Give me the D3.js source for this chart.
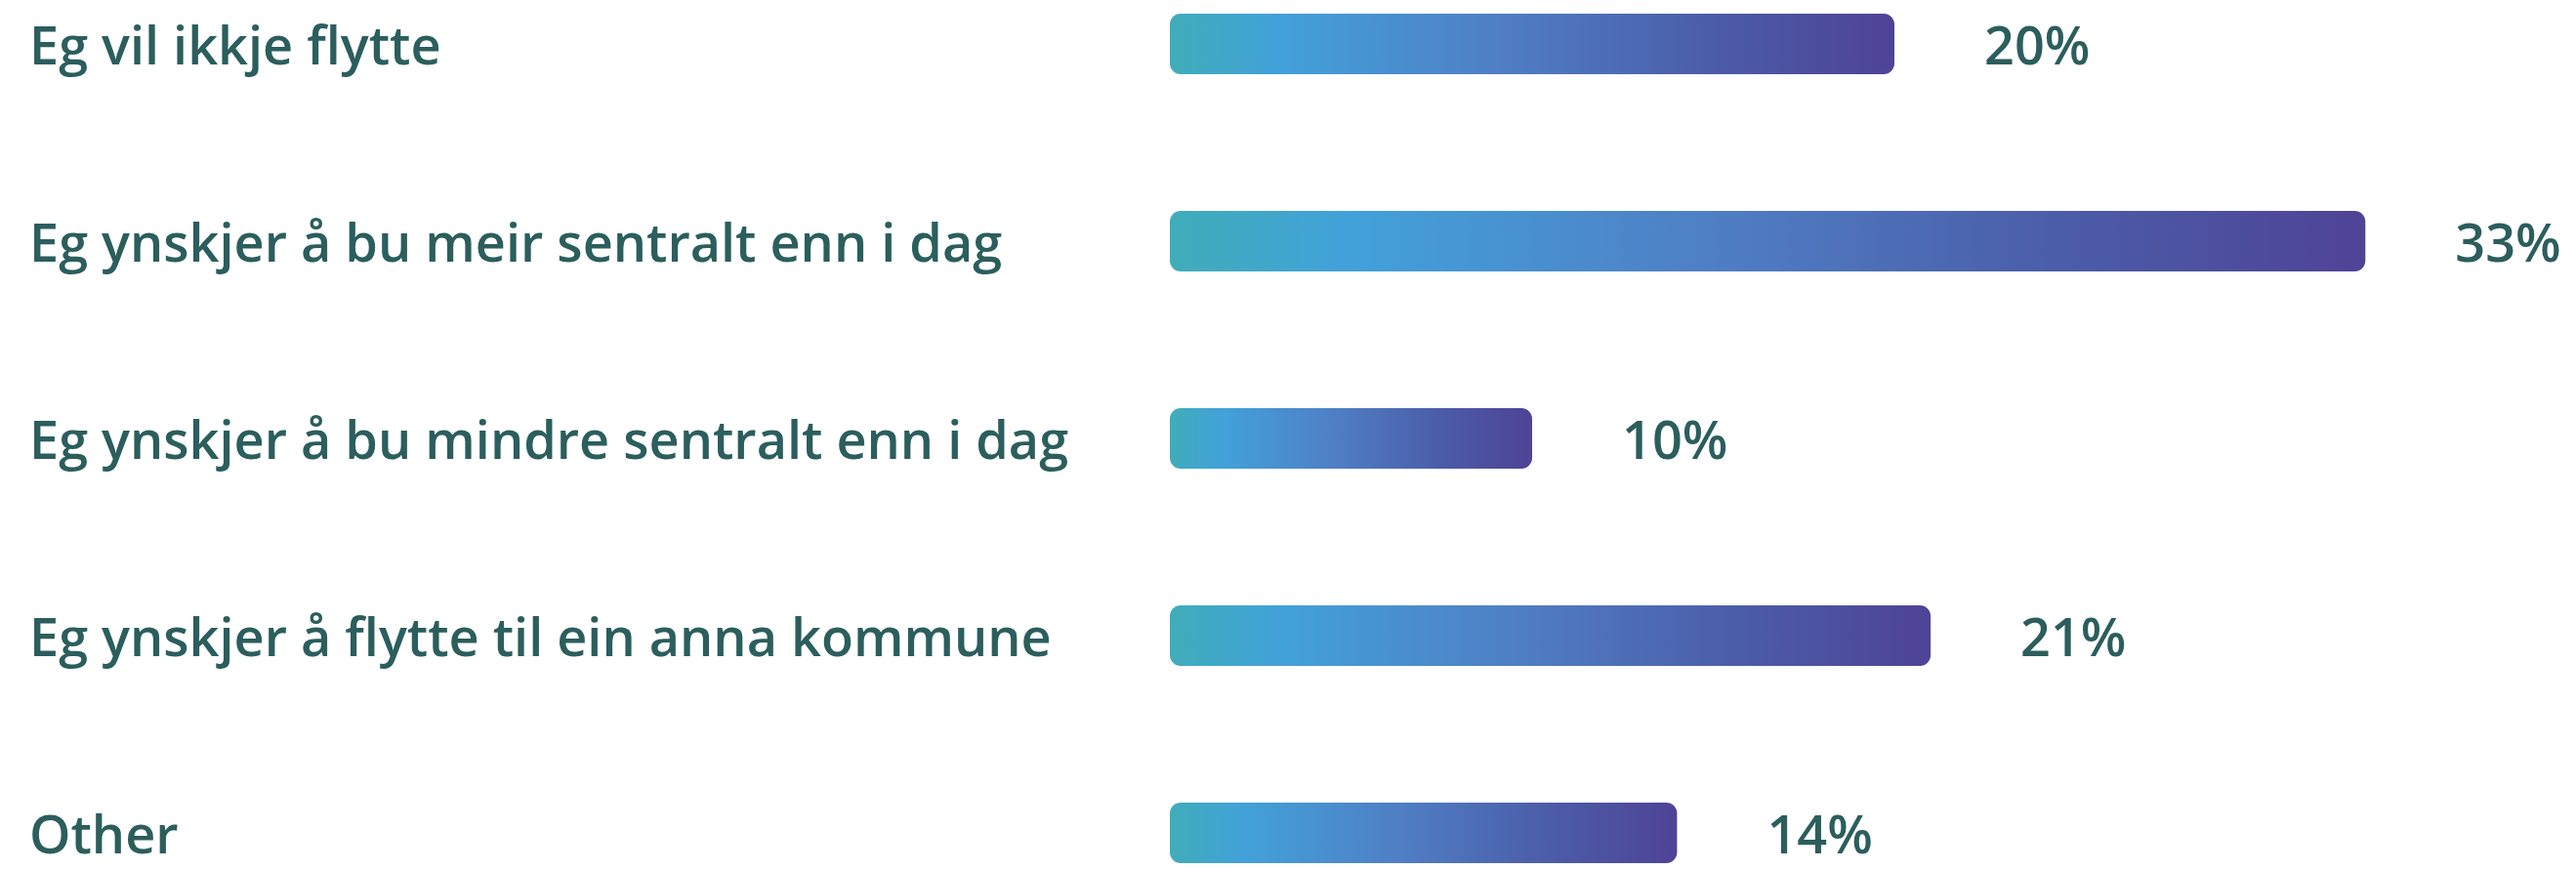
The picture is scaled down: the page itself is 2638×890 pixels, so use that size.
<!DOCTYPE html>
<html>
<head>
<meta charset="utf-8">
<script src="https://cdn.jsdelivr.net/npm/d3@7"></script>
<style>
  html, body { margin: 0; padding: 0; background: #ffffff; }
  svg { display: block; }
</style>
</head>
<body>
<div id="chart"></div>
<script>
// Survey answers and their shares (%)
const categories = [
  "Eg vil ikkje flytte",
  "Eg ynskjer å bu meir sentralt enn i dag",
  "Eg ynskjer å bu mindre sentralt enn i dag",
  "Eg ynskjer å flytte til ein anna kommune",
  "Other"
];
const values = [20, 33, 10, 21, 14];
const valueLabels = ["20%", "33%", "10%", "21%", "14%"];

const width = 2638, height = 890;
const barLeft = 1198;
const barH = 62;
const textColor = "#2b5e5d";
const fontSize = 54;

const svg = d3.select("#chart").append("svg")
  .attr("width", width)
  .attr("height", height);

// Horizontal gradient shared by all bars, stretched to each bar
const defs = svg.append("defs");
const grad = defs.append("linearGradient")
  .attr("id", "barGrad")
  .attr("x1", "0%").attr("x2", "100%")
  .attr("y1", "0%").attr("y2", "0%");
[
  [0, "#40adb9"],
  [0.15, "#42a1da"],
  [0.45, "#4f7fc5"],
  [0.75, "#4b5ca8"],
  [1, "#4f4396"]
].forEach(([o, c]) => grad.append("stop").attr("offset", o).attr("stop-color", c));

const x = d3.scaleLinear()
  .domain([0, 35])
  .range([barLeft, barLeft + 35 * 37.1]);

const y = d3.scalePoint()
  .domain(categories)
  .range([45, 853]);

const rows = svg.selectAll("g.row")
  .data(categories.map((c, i) => ({ cat: c, value: values[i], label: valueLabels[i] })))
  .join("g")
  .attr("class", "row");

rows.append("text")
  .attr("x", 30)
  .attr("y", d => y(d.cat) + 2)
  .attr("dy", "0.36em")
  .attr("fill", textColor)
  .attr("font-family", "'Open Sans', 'Noto Sans', sans-serif")
  .attr("font-weight", 600)
  .attr("font-size", fontSize)
  .text(d => d.cat);

rows.append("rect")
  .attr("x", x(0))
  .attr("y", d => y(d.cat) - barH / 2)
  .attr("width", d => x(d.value) - x(0))
  .attr("height", barH)
  .attr("rx", 11)
  .attr("ry", 11)
  .attr("fill", "url(#barGrad)");

rows.append("text")
  .attr("x", d => x(d.value) + 92)
  .attr("y", d => y(d.cat) + 2)
  .attr("dy", "0.36em")
  .attr("fill", textColor)
  .attr("font-family", "'Open Sans', 'Noto Sans', sans-serif")
  .attr("font-weight", 600)
  .attr("font-size", fontSize)
  .text(d => d.label);
</script>
</body>
</html>
